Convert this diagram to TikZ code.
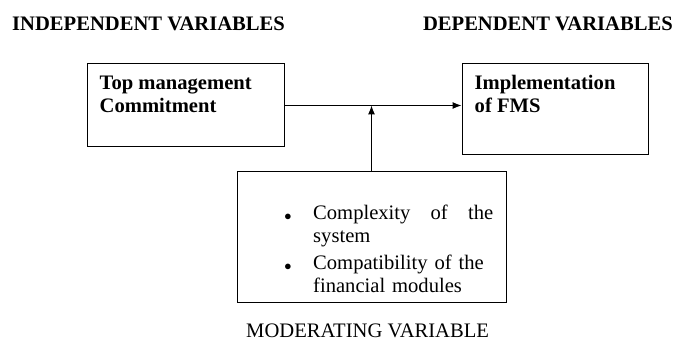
\documentclass[tikz,border=0pt]{standalone}
\usepackage{fontspec}
\setmainfont{Liberation Serif}
\usetikzlibrary{arrows.meta}
\begin{document}
\begin{tikzpicture}[>={Latex[length=9pt,width=7pt]}, x=1pt, y=-1pt,
    font=\fontsize{20.6}{23}\selectfont,
    varbox/.style={draw, line width=1pt, rectangle, inner sep=0pt},
    boxtext/.style={font=\fontsize{20.6}{23}\selectfont\bfseries, align=left, inner sep=0pt, anchor=north west},
    heading/.style={anchor=base west, inner sep=0pt},
    dot/.style={inner sep=0pt, font=\fontsize{15}{15}\selectfont}]
    \useasboundingbox (0,0) rectangle (675,342);

    % headings
    \node[heading, font=\fontsize{20.6}{23}\selectfont\bfseries] (indep) at (12,31) {INDEPENDENT VARIABLES};
    \node[heading, anchor=base east, font=\fontsize{20.6}{23}\selectfont\bfseries] (dep) at (673,31) {DEPENDENT VARIABLES};
    \node[heading] (moder) at (246,337) {MODERATING VARIABLE};

    % independent variable
    \node[varbox, minimum width=197, minimum height=83] (top) at (185.5,105.5) {};
    \node[boxtext] (toptext) at ([xshift=13, yshift=-12]top.north west) {Top management\\Commitment};

    % dependent variable
    \node[varbox, minimum width=186, minimum height=91] (impl) at (555,109.5) {};
    \node[boxtext] (impltext) at ([xshift=13, yshift=-12]impl.north west) {Implementation\\of FMS};

    % moderating variable
    \node[varbox, minimum width=269, minimum height=130] (mod) at (371.5,237) {};
    \node[dot] (bulleta) at (288,217) {$\bullet$};
    \node[dot] (bulletb) at (288,267) {$\bullet$};
    \node[inner sep=0pt, anchor=north west, text width=180, align=left] (itema) at (313,205)
        {Complexity\hfill of\hfill the\\system};
    \node[inner sep=0pt, anchor=north west, text width=180, align=left] (itemb) at (313,255)
        {Compatibility of the\\financial modules};

    % arrows
    \draw[line width=1pt, ->] (top.east) -- (impl.west |- top.east);
    \draw[line width=1pt, ->] (mod.north) -- (mod.north |- top.east);
\end{tikzpicture}
\end{document}
